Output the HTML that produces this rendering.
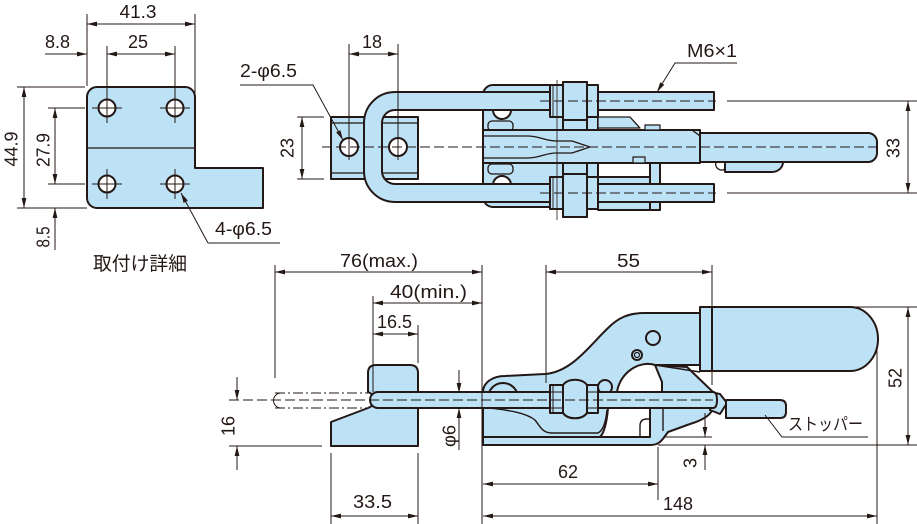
<!DOCTYPE html>
<html><head><meta charset="utf-8">
<style>
html,body{margin:0;padding:0;background:#fff;}
svg{display:block}
text{font-family:"Liberation Sans","Noto Sans CJK JP",sans-serif;font-size:18px;fill:#231815}
</style></head><body>
<svg width="917" height="524" viewBox="0 0 917 524" xmlns="http://www.w3.org/2000/svg">
<defs>
<marker id="a" markerUnits="userSpaceOnUse" markerWidth="10" markerHeight="6" refX="10" refY="3" orient="auto-start-reverse"><path d="M0,0.6 L10,3 L0,5.4 Z" fill="#231815"/></marker>
</defs>

<!-- ===== Mounting plate (top-left) ===== -->
<g fill="#bde1f5" stroke="#231815" stroke-width="2" stroke-linejoin="round">
<path d="M97,87 H185 A10,10 0 0 1 195,97 V168 H263 V208 H97 A10,10 0 0 1 87,198 V97 A10,10 0 0 1 97,87 Z"/>
<line x1="87" y1="148" x2="195" y2="148" stroke-width="1.3"/>
<circle cx="107" cy="108" r="8.5" fill="#fff"/>
<circle cx="175" cy="108" r="8.5" fill="#fff"/>
<circle cx="107" cy="184" r="8.5" fill="#fff"/>
<circle cx="175" cy="184" r="8.5" fill="#fff"/>
</g>
<g fill="none" stroke="#231815" stroke-width="1">
<path d="M92,108 H122 M160,108 H190 M92,184 H122 M160,184 H190 M107,169 V199 M175,169 V199"/>
<path d="M107,46 V123 M175,46 V123"/>
<path d="M87,14 V86 M195,14 V93"/>
<line x1="87" y1="24" x2="195" y2="24" marker-start="url(#a)" marker-end="url(#a)"/>
<line x1="45" y1="54" x2="87" y2="54" marker-end="url(#a)"/>
<line x1="107" y1="54" x2="175" y2="54" marker-start="url(#a)" marker-end="url(#a)"/>
<path d="M17,87 H85 M17,208 H87 M48,108 H85 M48,184 H85"/>
<line x1="24" y1="87" x2="24" y2="208" marker-start="url(#a)" marker-end="url(#a)"/>
<line x1="55" y1="108" x2="55" y2="184" marker-start="url(#a)" marker-end="url(#a)"/>
<line x1="55" y1="250" x2="55" y2="208" marker-end="url(#a)"/>
<line x1="208" y1="243" x2="181" y2="193" marker-end="url(#a)"/>
<path d="M208,243 H280"/>
</g>

<!-- ===== Top view ===== -->
<g fill="#bde1f5" stroke="#231815" stroke-width="2" stroke-linejoin="round">
<rect x="331" y="117" width="87" height="62"/>
<path d="M331,123 H418 M331,173 H418" stroke-width="1.2"/>
<circle cx="349" cy="147" r="9" fill="#fff"/>
<circle cx="398" cy="147" r="9" fill="#fff"/>
<rect x="483" y="85" width="115" height="122" rx="10"/>
<circle cx="502" cy="110" r="9" fill="#fff"/>
<circle cx="502" cy="185" r="9" fill="#fff"/>
<rect x="488" y="121" width="25" height="10" rx="4" stroke-width="1.3"/>
<rect x="488" y="164" width="25" height="10" rx="4" stroke-width="1.3"/>
<rect x="563" y="82" width="24" height="135"/>
<rect x="598" y="177" width="62" height="33"/>
<rect x="650" y="160" width="10" height="50"/>
<path d="M598,117 H630 L640,128 H598 Z" stroke-width="1.3"/>
<rect x="483" y="130" width="217" height="33"/>
<path d="M483,136 H527 C540,136 545,141 556,141 H572 L590,147 L572,153 H556 C545,153 540,158 527,158 H483" fill="none" stroke-width="1.3"/>
<path d="M633,130 H692 L700,136" fill="none" stroke-width="1.3"/>
<rect x="645" y="125" width="15" height="5" stroke-width="1.2"/>
<rect x="633" y="157" width="12" height="6" stroke-width="1.2"/>
<path d="M714,92 H395 A31,31 0 0 0 364,123 V171 A31,31 0 0 0 395,202 H714 V184 H395 A13,13 0 0 1 382,171 V123 A13,13 0 0 1 395,110 H714 Z"/>
<rect x="563" y="82" width="24" height="38"/>
<rect x="563" y="174" width="24" height="43"/>
<rect x="550" y="85" width="13" height="32"/>
<rect x="587" y="85" width="11" height="32"/>
<rect x="550" y="177" width="13" height="32"/>
<rect x="587" y="177" width="11" height="32"/>
<path d="M553,85 V117 M553,177 V209" stroke-width="0.9"/>
<path d="M700,133 H868 A9,9 0 0 1 877,142 V153 A9,9 0 0 1 868,162 H700 Z"/>
<path d="M725,162 V172 H772 A11,10 0 0 0 783,162 Z"/>
<path d="M716,162 A6,6 0 0 0 725,169" fill="none" stroke-width="1.4"/>
</g>
<g fill="none" stroke="#231815" stroke-width="1">
<path d="M557,80 V220" stroke-width="0.8"/>
<path d="M322,147 H882 M540,101 H716 M540,193 H716" stroke-dasharray="10,4"/>
<path d="M727,101 H917 M727,193 H917"/>
<path d="M349,44 V160 M398,44 V160"/>
<line x1="349" y1="54" x2="398" y2="54" marker-start="url(#a)" marker-end="url(#a)"/>
<path d="M297,117 H324 M297,179 H324"/>
<line x1="302" y1="117" x2="302" y2="179" marker-start="url(#a)" marker-end="url(#a)"/>
<line x1="908" y1="101" x2="908" y2="193" marker-start="url(#a)" marker-end="url(#a)"/>
<path d="M240,85 H313 L343,140" marker-end="url(#a)"/>
<path d="M737,63 H675 L657,92" marker-end="url(#a)"/>
</g>

<!-- ===== Side view ===== -->
<g fill="#bde1f5" stroke="#231815" stroke-width="2" stroke-linejoin="round">
<path d="M376,365 H410 Q418,365 418,373 V446 H331 V422 L368,408 C376,405 376,395 368,392 V373 Q368,365 376,365 Z"/>
<path d="M483,392 C483,383 492,376 505,376 L545,374 C572,372 590,345 608,328 C618,318 628,313 645,313 H700 V365 H655 C640,360 620,372 617,392 Z"/>
<path d="M655,365 L687,367 L713,392 H662 V382 Z"/>
<circle cx="653" cy="338" r="7"/>
<circle cx="637" cy="355" r="5"/>
<circle cx="637" cy="355" r="2.5" stroke-width="1.2"/>
<circle cx="605" cy="387" r="7"/>
<circle cx="503" cy="398" r="15" fill="none"/>
<path d="M483,408 H608 C607,420 605,432 600,437 H483 Z"/>
<path d="M650,408 H713 C711,416 700,421 690,424 L668,432 C662,440 660,445 650,445 H483 V437 H650 Z"/>
<path d="M663,408 V431 M640,437 V426 Q640,419 647,419 H650 M655,365 L700,372" fill="none" stroke-width="1.4"/>
<path d="M490,408 C505,410 525,412 535,420 C540,426 542,433 552,433 H598 C604,430 606,420 607,410" fill="none" stroke-width="1.4"/>
<path d="M710,392 L720,394 L727,403 L720,414 L710,410 Z"/>
<path d="M378,392 H713 Q717,392 717,400 Q717,408 713,408 H378 A8,8 0 0 1 378,392 Z"/>
<rect x="550" y="385" width="13" height="28"/>
<path d="M563,385 C568,378 582,378 587,385 V413 C582,420 568,420 563,413 Z"/>
<rect x="587" y="385" width="11" height="28"/>
<path d="M550,392 H563 M550,408 H563 M587,392 H598 M587,408 H598 M553,385 V413" fill="none" stroke-width="1"/>
<path d="M726,400 H780 Q786,400 786,406 V412 Q786,418 780,418 H726 Z"/>
<rect x="700" y="307" width="12" height="64"/>
<path d="M712,307 H850 C866,307 878,322 878,339 C878,356 866,371 850,371 H712 Z"/>
</g>
<g fill="none" stroke="#231815" stroke-width="1">
<path d="M229,400 H713" stroke-dasharray="10,4"/>
<path d="M275,393 H368 M275,408 H368" stroke-dasharray="10,3,2,3"/>
<path d="M281,393 A7.5,7.5 0 0 0 281,408"/>
<path d="M275,265 V378 M482,265 V524 M373,296 V392 M418,325 V363"/>
<line x1="275" y1="272" x2="482" y2="272" marker-start="url(#a)" marker-end="url(#a)"/>
<line x1="373" y1="303" x2="482" y2="303" marker-start="url(#a)" marker-end="url(#a)"/>
<line x1="373" y1="334" x2="418" y2="334" marker-start="url(#a)" marker-end="url(#a)"/>
<line x1="237" y1="377" x2="237" y2="400" marker-end="url(#a)"/>
<line x1="237" y1="470" x2="237" y2="446" marker-end="url(#a)"/>
<path d="M229,446 H322"/>
<line x1="459" y1="370" x2="459" y2="393" marker-end="url(#a)"/>
<line x1="459" y1="450" x2="459" y2="408" marker-end="url(#a)"/>
<path d="M331,453 V524 M418,453 V524"/>
<line x1="331" y1="516" x2="418" y2="516" marker-start="url(#a)" marker-end="url(#a)"/>
<path d="M546,265 V383 M712,265 V385"/>
<line x1="546" y1="272" x2="712" y2="272" marker-start="url(#a)" marker-end="url(#a)"/>
<path d="M855,307 H917 M658,445 H917"/>
<line x1="908" y1="307" x2="908" y2="445" marker-start="url(#a)" marker-end="url(#a)"/>
<path d="M665,437 H712"/>
<line x1="705" y1="413" x2="705" y2="437" marker-end="url(#a)"/>
<line x1="705" y1="470" x2="705" y2="445" marker-end="url(#a)"/>
<path d="M658,447 V500 M877,345 V524"/>
<line x1="483" y1="484" x2="658" y2="484" marker-start="url(#a)" marker-end="url(#a)"/>
<line x1="483" y1="516" x2="877" y2="516" marker-start="url(#a)" marker-end="url(#a)"/>
<path d="M765,415 L782,437 H868"/>
</g>

<!-- ===== Text ===== -->
<text x="138" y="18" text-anchor="middle" textLength="37" lengthAdjust="spacingAndGlyphs">41.3</text>
<text x="57.5" y="48" text-anchor="middle" textLength="25" lengthAdjust="spacingAndGlyphs">8.8</text>
<text x="138" y="48" text-anchor="middle" textLength="20" lengthAdjust="spacingAndGlyphs">25</text>
<text transform="translate(17.5,149) rotate(-90)" text-anchor="middle" textLength="35" lengthAdjust="spacingAndGlyphs">44.9</text>
<text transform="translate(49.5,150) rotate(-90)" text-anchor="middle" textLength="34" lengthAdjust="spacingAndGlyphs">27.9</text>
<text transform="translate(49.5,237) rotate(-90)" text-anchor="middle" textLength="21" lengthAdjust="spacingAndGlyphs">8.5</text>
<text x="215" y="235" textLength="57" lengthAdjust="spacingAndGlyphs">4-φ6.5</text>
<text x="93" y="270" style="font-size:19px" textLength="94" lengthAdjust="spacingAndGlyphs">取付け詳細</text>
<text x="240" y="77" textLength="57" lengthAdjust="spacingAndGlyphs">2-φ6.5</text>
<text x="372" y="48" text-anchor="middle" textLength="20" lengthAdjust="spacingAndGlyphs">18</text>
<text transform="translate(293.5,148) rotate(-90)" text-anchor="middle" textLength="20" lengthAdjust="spacingAndGlyphs">23</text>
<text x="687" y="57" textLength="50" lengthAdjust="spacingAndGlyphs">M6×1</text>
<text transform="translate(899.5,148) rotate(-90)" text-anchor="middle" textLength="20" lengthAdjust="spacingAndGlyphs">33</text>
<text x="340" y="267" textLength="78" lengthAdjust="spacingAndGlyphs">76(max.)</text>
<text x="390" y="298" textLength="77" lengthAdjust="spacingAndGlyphs">40(min.)</text>
<text x="377" y="328" textLength="35" lengthAdjust="spacingAndGlyphs">16.5</text>
<text transform="translate(234.5,426) rotate(-90)" text-anchor="middle" textLength="20" lengthAdjust="spacingAndGlyphs">16</text>
<text transform="translate(455.5,436) rotate(-90)" text-anchor="middle" textLength="22" lengthAdjust="spacingAndGlyphs">φ6</text>
<text x="353" y="508" textLength="39" lengthAdjust="spacingAndGlyphs">33.5</text>
<text x="617" y="267" textLength="23" lengthAdjust="spacingAndGlyphs">55</text>
<text x="558" y="478" textLength="20" lengthAdjust="spacingAndGlyphs">62</text>
<text x="663" y="510" textLength="30" lengthAdjust="spacingAndGlyphs">148</text>
<text transform="translate(901.5,378) rotate(-90)" text-anchor="middle" textLength="20" lengthAdjust="spacingAndGlyphs">52</text>
<text transform="translate(696.5,463) rotate(-90)" text-anchor="middle">3</text>
<text x="788" y="430" style="font-size:17px" textLength="75" lengthAdjust="spacingAndGlyphs">ストッパー</text>
</svg>
</body></html>
